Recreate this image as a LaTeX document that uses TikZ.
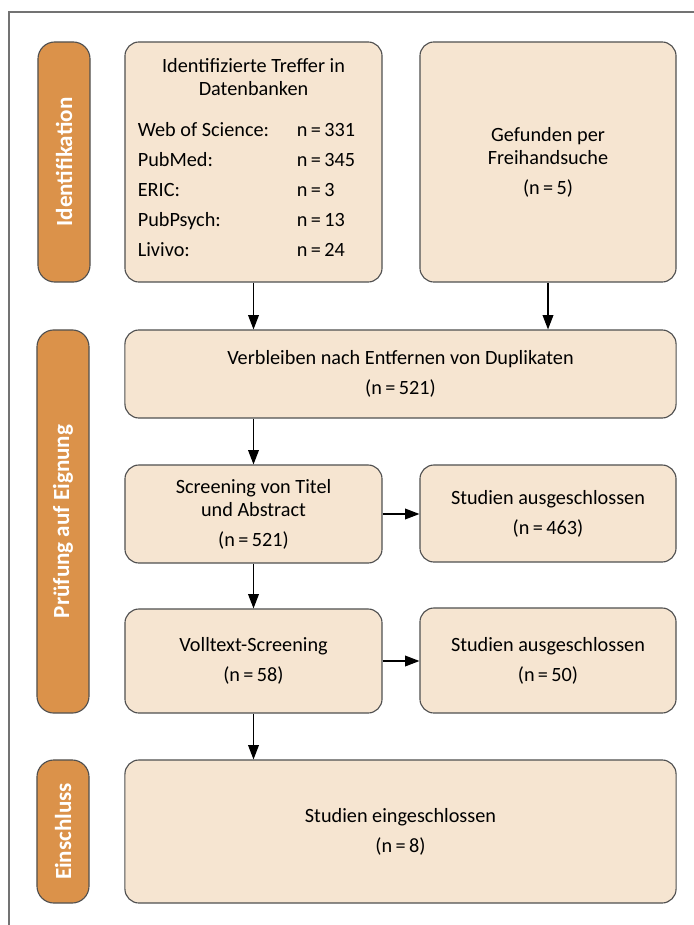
\documentclass[tikz,border=0pt]{standalone}
\usepackage{fontspec}
\setmainfont{Carlito}
\usetikzlibrary{arrows.meta,positioning}

\definecolor{boxfill}{RGB}{246,229,209}
\definecolor{barfill}{RGB}{219,146,74}
\definecolor{boxline}{RGB}{80,80,80}
\definecolor{frameline}{RGB}{115,115,115}

\begin{document}
\begin{tikzpicture}[x=0.025cm,y=-0.025cm,
    font=\fontsize{14.4}{16.3}\selectfont,
    box/.style={draw=boxline, line width=0.8pt, fill=boxfill, rounded corners=10pt,
        align=center, inner sep=0pt},
    phase/.style={draw=boxline, line width=0.8pt, fill=barfill, rounded corners=12pt,
        rotate=90, text=white, font=\fontsize{16.4}{18}\selectfont\bfseries, inner sep=0pt},
    arr/.style={-{Triangle[length=3.6mm,width=2.7mm]}, line width=0.8pt}]
    \useasboundingbox (0,0) rectangle (694,925);

    % Frame
    \draw[frameline, line width=0.8pt] (9,925) -- (9,12) -- (694,12);

    % Phases
    \node[phase, minimum width=6cm, minimum height=1.3cm] (idf) at (64,162) {Identifikation};
    \node[phase, minimum width=9.575cm, minimum height=1.3cm] (pruef) at (63,521.5) {Prüfung auf Eignung};
    \node[phase, minimum width=3.575cm, minimum height=1.3cm] (einschl) at (63,831.5) {Einschluss};

    % Identifikation
    \node[box, minimum width=6.425cm, minimum height=6cm] (db) at (253.5,162) {%
        Identifizierte Treffer in\\Datenbanken\\[13pt]
        {\renewcommand{\arraystretch}{1.31}%
        \begin{tabular}[t]{@{}p{3.975cm}@{}l@{\hspace{0.35cm}}}
            Web of Science: & n\,=\,331\\
            PubMed:         & n\,=\,345\\
            ERIC:           & n\,=\,3\\
            PubPsych:       & n\,=\,13\\
            Livivo:         & n\,=\,24
        \end{tabular}}};
    \node[box, minimum width=6.4cm, minimum height=6cm] (hand) at (548,162)
        {Gefunden per\\Freihandsuche\\[5pt](n\,=\,5)};

    % Pruefung
    \node[box, minimum width=13.775cm, minimum height=2.2cm] (dup) at (400.5,374)
        {Verbleiben nach Entfernen von Duplikaten\\[5pt](n\,=\,521)};
    \node[box, minimum width=6.425cm, minimum height=2.45cm] (titel) at (253.5,514)
        {Screening von Titel\\und Abstract\\[5pt](n\,=\,521)};
    \node[box, minimum width=6.4cm, minimum height=2.425cm] (aus1) at (548,513.5)
        {Studien ausgeschlossen\\[5pt](n\,=\,463)};
    \node[box, minimum width=6.425cm, minimum height=2.6cm] (voll) at (253.5,661)
        {Volltext-Screening\\[5pt](n\,=\,58)};
    \node[box, minimum width=6.4cm, minimum height=2.625cm] (aus2) at (548,660.5)
        {Studien ausgeschlossen\\[5pt](n\,=\,50)};

    % Einschluss
    \node[box, minimum width=13.775cm, minimum height=3.575cm] (ein) at (400.5,831.5)
        {Studien eingeschlossen\\[5pt](n\,=\,8)};

    % Arrows
    \draw[arr] (db.south) -- (db.south |- dup.north);
    \draw[arr] (hand.south) -- (hand.south |- dup.north);
    \draw[arr] (titel.north |- dup.south) -- (titel.north);
    \draw[arr] (titel.east) -- (titel.east -| aus1.west);
    \draw[arr] (titel.south) -- (voll.north);
    \draw[arr] (voll.east) -- (voll.east -| aus2.west);
    \draw[arr] (voll.south) -- (voll.south |- ein.north);
\end{tikzpicture}
\end{document}
